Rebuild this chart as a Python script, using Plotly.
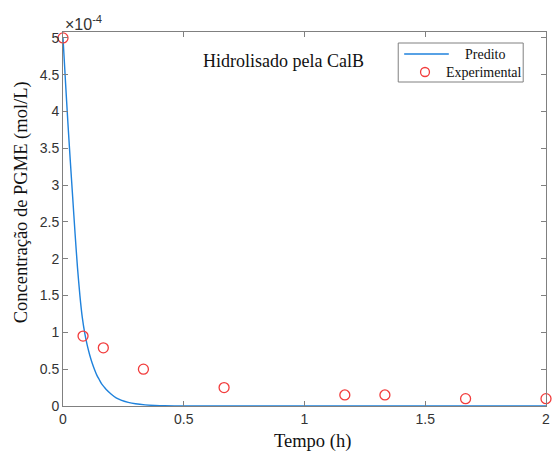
import plotly.graph_objects as go

# Experimental PGME concentration (units of 1e-4 mol/L) vs time (h)
t_exp = [0.0, 0.083, 0.167, 0.333, 0.667, 1.167, 1.333, 1.667, 2.0]
c_exp = [5.0, 0.95, 0.79, 0.50, 0.25, 0.15, 0.15, 0.10, 0.10]

# Model prediction (units of 1e-4 mol/L)
t_pred = [0.0, 0.01, 0.02, 0.03, 0.04, 0.05, 0.06, 0.07, 0.08, 0.09, 0.10,
          0.11, 0.12, 0.13, 0.14, 0.15, 0.16, 0.17, 0.18, 0.20, 0.22, 0.24,
          0.27, 0.30, 0.34, 0.38, 0.42, 0.50, 0.60, 0.80, 1.0, 1.5, 2.0]
c_pred = [5.0, 4.42, 3.86, 3.34, 2.84, 2.34, 1.88, 1.50, 1.20, 0.99, 0.83,
          0.70, 0.59, 0.50, 0.42, 0.36, 0.30, 0.26, 0.22, 0.16, 0.11, 0.08,
          0.05, 0.03, 0.015, 0.007, 0.003, 0.001, 0.0, 0.0, 0.0, 0.0, 0.0]

x_ticks = [0, 0.5, 1, 1.5, 2]
x_tick_text = ["0", "0.5", "1", "1.5", "2"]
y_ticks = [0, 0.5, 1, 1.5, 2, 2.5, 3, 3.5, 4, 4.5, 5]
y_tick_text = ["0", "0.5", "1", "1.5", "2", "2.5", "3", "3.5", "4", "4.5", "5"]

BLUE = "#1f82dc"
RED = "#f23c3c"
AXIS = "#808080"
SERIF = "Liberation Serif, Times New Roman, serif"
SANS = "Liberation Sans, Arial, sans-serif"

fig = go.Figure()
fig.add_trace(go.Scatter(x=t_pred, y=c_pred, mode="lines", name="Predito",
                         line=dict(color=BLUE, width=1.4, shape="spline", smoothing=0.6),
                         showlegend=False))
fig.add_trace(go.Scatter(x=t_exp, y=c_exp, mode="markers", name="Experimental",
                         marker=dict(symbol="circle-open", size=10, color=RED,
                                     line=dict(width=1.3, color=RED)),
                         showlegend=False, cliponaxis=False))

axis_common = dict(showgrid=False, zeroline=False, showline=True, linecolor=AXIS,
                   linewidth=1, mirror="ticks", ticks="inside", ticklen=5,
                   tickcolor=AXIS, tickfont=dict(family=SANS, size=14, color="#333333"))

fig.update_xaxes(range=[0, 2], tickvals=x_ticks, ticktext=x_tick_text, **axis_common)
fig.update_yaxes(range=[0, 5.08], tickvals=y_ticks, ticktext=y_tick_text, **axis_common)

# Manual legend and labels (paper coordinates of the plot area)
W, H = 487.0, 374.0
def px(x):
    return (x - 63) / W
def py(y):
    return (406 - y) / H

shapes = [
    dict(type="rect", xref="paper", yref="paper", x0=px(401), x1=px(527),
         y0=py(82), y1=py(43), line=dict(color=AXIS, width=1), fillcolor="white"),
    dict(type="line", xref="paper", yref="paper", x0=px(407), x1=px(452),
         y0=py(54), y1=py(54), line=dict(color=BLUE, width=1.4)),
    dict(type="circle", xref="paper", yref="paper", x0=px(428 - 4.5), x1=px(428 + 4.5),
         y0=py(72 + 4.5), y1=py(72 - 4.5), line=dict(color=RED, width=1.3)),
]

def label(text, x, y, size, family=SERIF, color="#111", xanchor="center", angle=0):
    return dict(text=text, xref="paper", yref="paper", x=px(x), y=py(y),
                xanchor=xanchor, yanchor="middle", showarrow=False, textangle=angle,
                font=dict(family=family, size=size, color=color))

annotations = [
    label("Predito", 488.5, 54, 14),
    label("Experimental", 487.5, 72, 14),
    label("Hidrolisado pela CalB", 285, 61, 18),
    label("×10<sup>-4</sup>", 63, 23, 16, family=SANS, color="#333333", xanchor="left"),
    label("Tempo (h)", 315, 441, 18.5),
    label("Concentração de PGME (mol/L)", 21, 202, 18.5, angle=-90),
]

fig.update_layout(width=556, height=454, margin=dict(l=63, r=6, t=32, b=48),
                  plot_bgcolor="white", paper_bgcolor="white",
                  shapes=shapes, annotations=annotations)

fig.write_html("out.html")
